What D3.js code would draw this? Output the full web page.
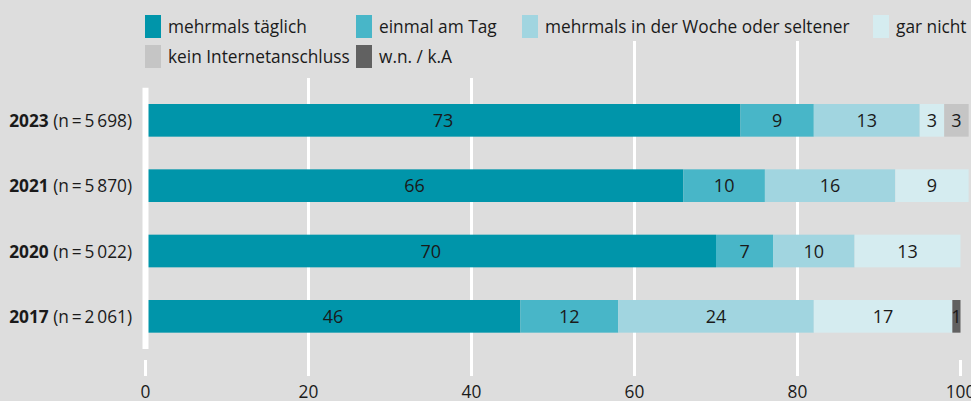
<!DOCTYPE html>
<html>
<head>
<meta charset="utf-8">
<script src="https://cdn.jsdelivr.net/npm/d3@7/dist/d3.min.js"></script>
<style>
  html, body { margin: 0; padding: 0; background: #dddddd; }
  svg { display: block; }
  text { font-family: "Open Sans", "Noto Sans", sans-serif; fill: #1a1a1a; }
</style>
</head>
<body>
<svg id="chart" width="971" height="401"></svg>
<script>
// ---- data ----
const years = ["2023", "2021", "2020", "2017"];
const sampleSizes = ["5\u2009698", "5\u2009870", "5\u2009022", "2\u2009061"];
const seriesNames = ["mehrmals täglich", "einmal am Tag", "mehrmals in der Woche oder seltener", "gar nicht", "kein Internetanschluss", "w.n. / k.A"];
const mehrmalsTaeglich = [73, 66, 70, 46];
const einmalAmTag = [9, 10, 7, 12];
const mehrmalsWoche = [13, 16, 10, 24];
const garNicht = [3, 9, 13, 17];
const keinInternet = [3, 0, 0, 0];
const wnKA = [0, 0, 0, 1];
const tickValues = [0, 20, 40, 60, 80, 100];
const colors = ["#0095aa", "#48b6c8", "#a1d5e0", "#d5ecf0", "#c5c5c5", "#616161"];

const seriesValues = [mehrmalsTaeglich, einmalAmTag, mehrmalsWoche, garNicht, keinInternet, wnKA];

// ---- layout ----
const svg = d3.select("#chart");
const bg = "#dddddd";
const fs = 17.3;
const x = d3.scaleLinear().domain([0, 100]).range([145.5, 960.5]);
const y = d3.scaleBand().domain(years).range([87.67, 349]).paddingInner(0.5).paddingOuter(0.25);

// gridlines (inner ticks span full height)
const grid = svg.append("g");
grid.selectAll("line.grid")
  .data(tickValues.filter(t => t > 0 && t < 100))
  .join("line")
  .attr("x1", d => x(d)).attr("x2", d => x(d))
  .attr("y1", 41).attr("y2", 376)
  .attr("stroke", "#ffffff").attr("stroke-width", 3);
// end ticks (0 and 100) just below plot
grid.selectAll("line.endtick")
  .data(tickValues.filter(t => t === 0 || t === 100))
  .join("line")
  .attr("x1", d => x(d)).attr("x2", d => x(d))
  .attr("y1", 360).attr("y2", 376)
  .attr("stroke", "#ffffff").attr("stroke-width", 3);

// legend background row 2 (covers gridlines)
svg.append("rect").attr("x", 140).attr("y", 40).attr("width", 350).attr("height", 38).attr("fill", bg);

// stacked data
const rows = years.map((yr, i) => {
  let acc = 0;
  return seriesValues.map((s, k) => {
    const v = s[i];
    const seg = { year: yr, k, v, x0: acc, x1: acc + v };
    acc += v;
    return seg;
  });
});

const barG = svg.append("g");
rows.forEach(segs => {
  segs.filter(s => s.v > 0).forEach(s => {
    barG.append("rect")
      .attr("x", x(s.x0))
      .attr("y", y(s.year))
      .attr("width", x(s.x1) - x(s.x0))
      .attr("height", y.bandwidth())
      .attr("fill", colors[s.k]);
    barG.append("text")
      .attr("x", (x(s.x0) + x(s.x1)) / 2)
      .attr("y", y(s.year) + y.bandwidth() / 2 + 6.5)
      .attr("text-anchor", "middle")
      .attr("font-size", 18)
      .text(s.v);
  });
});

// zero axis line
svg.append("line")
  .attr("x1", x(0)).attr("x2", x(0))
  .attr("y1", y.range()[0]).attr("y2", y.range()[1])
  .attr("stroke", "#ffffff").attr("stroke-width", 6);

// category labels
const lab = svg.append("g");
years.forEach((yr, i) => {
  const t = lab.append("text")
    .attr("x", 132)
    .attr("y", y(yr) + y.bandwidth() / 2 + 6.5)
    .attr("text-anchor", "end")
    .attr("font-size", fs);
  t.append("tspan").attr("font-weight", "bold").text(yr);
  t.append("tspan").text(" (n\u2009=\u2009" + sampleSizes[i] + ")");
});

// x axis tick labels
svg.append("g").selectAll("text")
  .data(tickValues)
  .join("text")
  .attr("x", d => x(d))
  .attr("y", 398)
  .attr("text-anchor", "middle")
  .attr("font-size", fs)
  .text(d => d);

// legend
const legendCols = [145, 356, 522, 873];
const legendRows = [15, 45];
const legendPos = [[0, 0], [1, 0], [2, 0], [3, 0], [0, 1], [1, 1]];
const lg = svg.append("g");
seriesNames.forEach((name, k) => {
  const [c, r] = legendPos[k];
  const g = lg.append("g").attr("transform", `translate(${legendCols[c]},${legendRows[r]})`);
  g.append("rect").attr("width", 16).attr("height", 23).attr("fill", colors[k]);
  g.append("text").attr("x", 23).attr("y", 18).attr("font-size", fs).text(name);
});
</script>
</body>
</html>
